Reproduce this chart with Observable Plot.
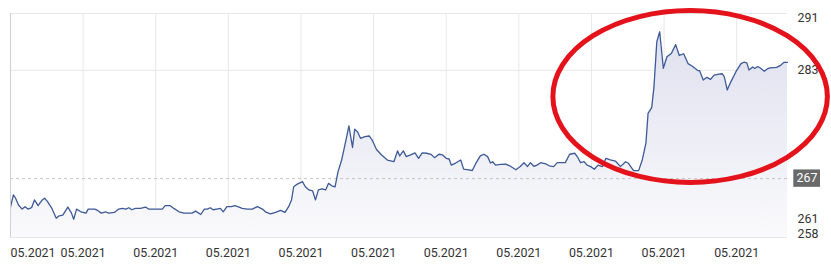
<!DOCTYPE html>
<html>
<head>
<meta charset="utf-8">
<script src="https://cdn.jsdelivr.net/npm/d3@7"></script>
<script src="https://cdn.jsdelivr.net/npm/@observablehq/plot@0.6"></script>
<style>
  html, body { margin: 0; padding: 0; background: #fff; }
  #chart svg { display: block; }
</style>
</head>
<body>
<div id="chart"></div>
<script>
// time (trading-day index) and price values
const times = [0,0.4,0.7,1.1,1.6,2.0,2.4,2.9,3.3,3.8,4.3,4.7,5.1,5.7,5.9,6.3,6.7,7.2,7.9,8.4,8.7,9.1,9.7,10.4,10.7,11.6,12.0,12.5,13.1,13.5,14.3,14.9,15.4,15.9,16.3,16.7,17.2,17.9,18.6,19.0,20.2,20.9,21.3,22.0,22.5,23.2,23.9,25.0,25.5,26.2,26.7,27.1,27.5,27.9,28.4,28.9,29.3,29.8,30.4,30.9,31.3,31.9,32.6,33.3,34.0,34.7,35.1,35.8,36.5,37.2,37.8,38.3,38.7,39.0,39.5,40.2,40.6,41.1,41.6,42.0,42.4,42.9,43.4,43.8,44.3,44.7,45.1,45.6,45.9,46.3,46.6,47.1,47.4,47.8,48.2,48.8,49.4,49.8,50.4,51.1,51.9,52.8,53.3,53.6,54.1,54.5,55.1,55.7,56.2,56.7,57.3,57.9,58.4,59.0,59.5,60.0,60.4,60.7,61.3,62.0,62.4,63.1,63.6,64.1,64.7,65.2,65.7,66.1,66.4,66.8,67.5,68.2,68.9,69.6,70.2,70.7,71.2,71.6,72.1,72.5,73.0,73.7,74.2,74.8,75.3,76.4,77.0,77.7,78.1,78.5,79.0,79.4,79.9,80.4,80.9,81.5,82.0,82.6,83.3,84.0,84.7,85.1,85.8,86.5,87.0,87.5,87.8,88.3,88.6,89.0,89.4,89.9,90.4,91.0,91.6,92.1,92.7,93.3,93.9,94.6,94.9,95.4,95.9,96.4,96.9,97.6,98.0,98.3,98.7,99.2,99.9,100.6,101.0,101.4,101.7,102.2,102.5,102.9,103.3,103.8,104.3,104.6,105.5,106.1,106.5,107.0];
const prices = [262.8,264.6,264.1,263.1,262.5,262.86,262.5,262.7,263.85,263.0,263.75,264.1,263.6,262.6,262.1,261.15,261.5,261.6,262.8,261.9,261.0,262.5,262.1,261.9,262.5,262.5,262.3,261.9,262.1,261.9,262.0,262.5,262.6,262.5,262.7,262.4,262.6,262.6,262.8,262.5,262.5,262.5,263.0,263.0,262.6,262.1,261.9,261.9,262.2,261.7,262.5,262.5,262.7,262.4,262.5,262.6,262.1,262.86,262.86,263.0,262.86,262.6,262.5,262.5,262.86,262.5,262.1,261.8,262.0,262.3,262.0,262.86,263.85,265.8,266.2,266.55,265.8,265.33,265.2,263.85,265.33,265.5,265.33,266.3,265.9,265.8,268.0,269.75,271.2,273.2,274.8,271.6,274.3,273.9,272.96,273.2,273.3,272.7,271.3,270.5,269.75,269.5,271.1,270.35,271.1,270.25,270.5,270.8,270.0,270.8,270.75,270.6,270.1,270.6,270.5,270.0,269.9,269.0,269.3,269.75,268.4,268.3,268.2,269.3,270.35,270.6,270.25,269.3,269.5,269.0,269.1,269.15,268.8,268.3,268.8,269.35,268.8,269.35,268.8,269.0,269.35,269.17,268.9,268.77,269.36,269.36,270.6,270.75,270.16,269.36,269.5,269.0,268.77,268.38,269.0,268.77,270.0,269.76,269.6,268.77,269.5,269.27,268.18,268.18,269.76,272.2,276.65,277.5,280.4,287.2,288.7,283.3,285.0,285.5,286.8,285.2,285.45,284.0,283.6,283.0,282.94,281.57,281.97,281.67,282.3,282.45,282.5,282.05,280.1,281.3,282.8,284.0,284.2,284.1,283.04,283.5,283.27,283.56,283.3,282.87,283.27,283.38,283.44,283.78,284.18,284.18];

// axis / tick information
const xDomain = [0, 107];
const yDomain = [258.3, 291.4];
const xTicks = [0, 10, 20, 30, 40, 50, 60, 70, 80, 90, 100];
const xTickLabel = "05.2021";
const yTicks = [283, 261];
const yEdgeLabels = ["291", "258"];
const lastValue = 267;
// highlight ellipse (centre time, centre price, half-width in days, half-height in price)
const ellipseCenter = [93.66, 279.06];
const ellipseRadii = [18.9, 12.7];

const data = times.map((t, i) => ({t, v: prices[i]}));

const plot = Plot.plot({
  width: 831,
  height: 268,
  marginLeft: 10,
  marginRight: 44,
  marginTop: 13,
  marginBottom: 31,
  style: {fontFamily: "Roboto, 'Noto Sans', sans-serif", fontSize: "12.4px", color: "#333", background: "#fff", overflow: "visible"},
  x: {domain: xDomain, axis: null},
  y: {domain: yDomain, axis: null},
  marks: [
    Plot.ruleX(xTicks.slice(1), {stroke: "#e8e8e8", strokeWidth: 1}),
    Plot.ruleY([...yTicks, yDomain[0], yDomain[1]], {stroke: "#e8e8e8", strokeWidth: 1}),
    Plot.areaY(data, {x: "t", y1: yDomain[0], y2: "v", fill: "url(#areaGrad)"}),
    Plot.ruleY([lastValue], {stroke: "#c4c4c4", strokeDasharray: "3,3", strokeWidth: 1}),
    Plot.lineY(data, {x: "t", y: "v", stroke: "#3e5a97", strokeWidth: 1.3}),
    Plot.ruleX([xDomain[0]], {stroke: "#d0d0d0", strokeWidth: 1}),
    // x labels
    Plot.text(xTicks.slice(0, 1), {x: d => d, y: yDomain[0], text: () => xTickLabel, textAnchor: "start", dy: 16, fill: "#333"}),
    Plot.text(xTicks.slice(1), {x: d => d, y: yDomain[0], text: () => xTickLabel, textAnchor: "middle", dy: 16, fill: "#333"}),
    // y labels on the right
    Plot.text(yTicks, {x: xDomain[1], y: d => d, text: d => String(d), textAnchor: "start", dx: 10, fill: "#333"}),
    Plot.text([yEdgeLabels[0]], {x: xDomain[1], y: yDomain[1], text: d => d, textAnchor: "start", lineAnchor: "top", dx: 10, dy: 0, fill: "#333"}),
    Plot.text([yEdgeLabels[1]], {x: xDomain[1], y: yDomain[0], text: d => d, textAnchor: "start", lineAnchor: "bottom", dx: 10, dy: 0, fill: "#333"})
  ]
});

const svg = d3.select(plot);
const sx = plot.scale("x");
const sy = plot.scale("y");

// gradient for the area
const defs = svg.insert("defs", ":first-child");
const grad = defs.append("linearGradient")
  .attr("id", "areaGrad")
  .attr("gradientUnits", "userSpaceOnUse")
  .attr("x1", 0).attr("x2", 0)
  .attr("y1", sy.apply(yDomain[1])).attr("y2", sy.apply(yDomain[0]));
grad.append("stop").attr("offset", "0%").attr("stop-color", "#dcdeed");
grad.append("stop").attr("offset", "100%").attr("stop-color", "#fafafc");

// last value box
const xr = sx.apply(xDomain[1]);
const yv = sy.apply(lastValue);
const g = svg.append("g");
g.append("rect")
  .attr("x", xr + 6.3).attr("y", yv - 8.7)
  .attr("width", 26.7).attr("height", 17.4)
  .attr("fill", "#696969");
g.append("text")
  .attr("x", xr + 9.5).attr("y", yv)
  .attr("dy", "0.35em")
  .attr("text-anchor", "start")
  .attr("fill", "#fff")
  .attr("font-size", 12.4)
  .text(String(lastValue));

// red highlight ellipse
const cx = sx.apply(ellipseCenter[0]);
const cy = sy.apply(ellipseCenter[1]);
svg.append("ellipse")
  .attr("cx", cx).attr("cy", cy)
  .attr("rx", sx.apply(ellipseCenter[0] + ellipseRadii[0]) - cx)
  .attr("ry", cy - sy.apply(ellipseCenter[1] + ellipseRadii[1]))
  .attr("fill", "none")
  .attr("stroke", "#e3121b")
  .attr("stroke-width", 5);

document.getElementById("chart").appendChild(plot);
</script>
</body>
</html>
